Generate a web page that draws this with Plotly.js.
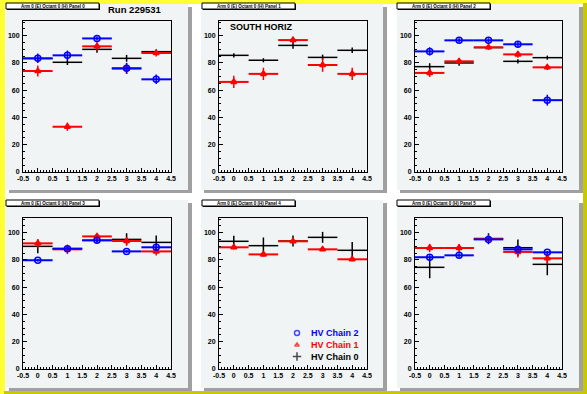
<!DOCTYPE html>
<html>
<head>
<meta charset="utf-8">
<script src="https://cdn.plot.ly/plotly-3.0.1.min.js"></script>
<style>html,body{margin:0;padding:0;background:#fff;}#plot{width:587px;height:394px;}</style>
</head>
<body>
<div id="plot"></div>
<script>
// ---------------- DATA ----------------
const bins = [0, 1, 2, 3, 4];
const binHalfWidth = [0.5, 0.5, 0.5, 0.5, 0.5];
const xTickVals = [-0.5, 0, 0.5, 1, 1.5, 2, 2.5, 3, 3.5, 4, 4.5];
const xTickText = ['-0.5', '0', '0.5', '1', '1.5', '2', '2.5', '3', '3.5', '4', '4.5'];
const yTickVals = [0, 20, 40, 60, 80, 100];
const yTickText = ['0', '20', '40', '60', '80', '100'];

const panelTitles = [
  'Arm 0 (E) Octant 0 (H) Panel 0',
  'Arm 0 (E) Octant 0 (H) Panel 1',
  'Arm 0 (E) Octant 0 (H) Panel 2',
  'Arm 0 (E) Octant 0 (H) Panel 3',
  'Arm 0 (E) Octant 0 (H) Panel 4',
  'Arm 0 (E) Octant 0 (H) Panel 5'
];
const seriesNames = ['HV Chain 2', 'HV Chain 1', 'HV Chain 0'];

// HV Chain 2 (blue)
const chain2 = [
  [83.4, 85.6, 98.0, 76.1, 68.0],
  null,
  [88.5, 96.6, 96.6, 93.7, 52.7],
  [79.8, 88.3, 94.4, 86.3, 89.3],
  null,
  [82.0, 83.4, 95.1, 87.8, 85.6]
];
const chain2Err = [
  [3.5, 3.5, 1.5, 4, 3.5],
  null,
  [3, 1.5, 1.5, 2, 4],
  [1, 1.5, 1.5, 1, 2],
  null,
  [1.5, 1.5, 1.5, 1.5, 1]
];
// HV Chain 1 (red)
const chain1 = [
  [74.1, 33.2, 92.2, 75.9, 87.3],
  [66.1, 72.0, 96.8, 78.5, 72.0],
  [72.7, 81.2, 91.5, 86.3, 76.8],
  [92.2, 87.8, 97.3, 93.9, 86.3],
  [89.3, 84.1, 93.7, 87.8, 80.5],
  [88.8, 88.8, 95.6, 85.9, 81.2]
];
const chain1Err = [
  [4, 3, 3, 4, 2.5],
  [4.5, 4.5, 2.5, 5, 4.5],
  [3, 2, 1.5, 2.5, 2],
  [3, 3.5, 1.5, 3, 3],
  [1.5, 1.5, 2, 1, 1.5],
  [3, 3, 2, 4, 4]
];
// HV Chain 0 (black)
const chain0 = [
  [83.3, 80.5, 90.0, 83.4, 88.3],
  [85.6, 82.0, 92.9, 84.1, 89.3],
  [77.3, 80.0, 91.3, 81.2, 83.9],
  [90.0, 88.3, 94.4, 95.1, 92.9],
  [93.7, 90.5, 93.9, 96.6, 87.1],
  [74.6, 88.8, 95.6, 89.0, 76.8]
];
const chain0Err = [
  [1.5, 2, 2.5, 2.5, 1.5],
  [1.5, 1.5, 2.5, 2, 2],
  [2.5, 2, 1.5, 1.5, 1.5],
  [5, 1.5, 1.5, 4.5, 5],
  [4, 6, 4, 4, 6],
  [8, 1.5, 4, 6, 8]
];

// ---------------- LAYOUT GEOMETRY (pixels) ----------------
const W = 587, H = 394;
const PX = p => p / W;
const PY = p => 1 - p / H;
const colPlot = [[23, 171], [219, 367], [415, 562]];
const rowPlot = [[21, 172], [218, 369]];
const colPad = [[6, 188], [201, 383], [397, 579]];
const rowPad = [[4, 190], [200, 388]];
const titleBoxX = [[6, 99], [202, 295], [397, 490]];
const titleBoxY = [[3, 9], [200, 206]];

const padColor = '#f0f4f4';
const shadowColor = '#a0a0a0';
const blue = '#0000ff', red = '#ff0000', black = '#000000';
const FONT = 'Liberation Sans, Arial, Helvetica, sans-serif';

const traces = [];
const layout = {
  width: W, height: H,
  margin: {l: 0, r: 0, t: 0, b: 0, pad: 0},
  paper_bgcolor: '#ffffff',
  plot_bgcolor: padColor,
  showlegend: false,
  hovermode: false,
  shapes: [],
  annotations: []
};

// canvas bevel border
layout.shapes.push(
  {type: 'rect', xref: 'paper', yref: 'paper', x0: PX(0), x1: PX(W), y0: PY(0), y1: PY(4), fillcolor: '#ffff33', line: {width: 0}, layer: 'below'},
  {type: 'rect', xref: 'paper', yref: 'paper', x0: PX(0), x1: PX(5), y0: PY(0), y1: PY(H), fillcolor: '#ffff33', line: {width: 0}, layer: 'below'},
  {type: 'rect', xref: 'paper', yref: 'paper', x0: PX(583), x1: PX(W), y0: PY(3), y1: PY(H), fillcolor: '#c8c800', line: {width: 0}, layer: 'below'},
  {type: 'rect', xref: 'paper', yref: 'paper', x0: PX(4), x1: PX(W), y0: PY(391), y1: PY(H), fillcolor: '#c8c800', line: {width: 0}, layer: 'below'}
);

for (let i = 0; i < 6; i++) {
  const c = i % 3, r = Math.floor(i / 3);
  const n = i + 1;
  const xa = 'x' + n, ya = 'y' + n;
  const ax = {
    domain: [PX(colPlot[c][0]), PX(colPlot[c][1])],
    anchor: ya,
    range: [-0.5, 4.5],
    tickmode: 'array', tickvals: xTickVals, ticktext: xTickText,
    ticks: 'inside', ticklen: 4, tickwidth: 1, tickcolor: black,
    minor: {ticks: 'inside', ticklen: 2, tickmode: 'linear', tick0: -0.5, dtick: 0.1, tickcolor: black, showgrid: false},
    showline: true, mirror: true, linecolor: black, linewidth: 1,
    showgrid: false, zeroline: false, fixedrange: true,
    tickfont: {family: FONT, size: 7, color: black, weight: 700},
    ticklabelstandoff: 0
  };
  const ay = {
    domain: [PY(rowPlot[r][1]), PY(rowPlot[r][0])],
    anchor: xa,
    range: [0, 110.8],
    tickmode: 'array', tickvals: yTickVals, ticktext: yTickText,
    ticks: 'inside', ticklen: 4, tickwidth: 1, tickcolor: black,
    minor: {ticks: 'inside', ticklen: 2, tickmode: 'linear', tick0: 0, dtick: 5, tickcolor: black, showgrid: false},
    showline: true, mirror: true, linecolor: black, linewidth: 1,
    showgrid: false, zeroline: false, fixedrange: true,
    tickfont: {family: FONT, size: 7, color: black, weight: 700},
    ticklabelstandoff: 1
  };
  layout['xaxis' + (n === 1 ? '' : n)] = ax;
  layout['yaxis' + (n === 1 ? '' : n)] = ay;

  // pad shadow + pad
  layout.shapes.push(
    {type: 'rect', xref: 'paper', yref: 'paper', x0: PX(colPad[c][0] + 3), x1: PX(colPad[c][1] + 4), y0: PY(rowPad[r][1] + 3), y1: PY(rowPad[r][0] + 3), fillcolor: shadowColor, line: {width: 0}, layer: 'below'},
    {type: 'rect', xref: 'paper', yref: 'paper', x0: PX(colPad[c][0]), x1: PX(colPad[c][1]), y0: PY(rowPad[r][1]), y1: PY(rowPad[r][0]), fillcolor: padColor, line: {width: 0}, layer: 'below'}
  );
  // title box with shadow
  layout.shapes.push(
    {type: 'rect', xref: 'paper', yref: 'paper', x0: PX(titleBoxX[c][0] + 1), x1: PX(titleBoxX[c][1] + 1), y0: PY(titleBoxY[r][1] + 1), y1: PY(titleBoxY[r][0] + 1), fillcolor: black, line: {width: 0}, layer: 'above'},
    {type: 'rect', xref: 'paper', yref: 'paper', x0: PX(titleBoxX[c][0]), x1: PX(titleBoxX[c][1]), y0: PY(titleBoxY[r][1]), y1: PY(titleBoxY[r][0]), fillcolor: '#ffffff', line: {width: 1, color: black}, layer: 'above'}
  );
  layout.annotations.push({
    xref: 'paper', yref: 'paper',
    x: PX((titleBoxX[c][0] + titleBoxX[c][1]) / 2), y: PY((titleBoxY[r][0] + titleBoxY[r][1]) / 2),
    text: panelTitles[i], showarrow: false, xanchor: 'center', yanchor: 'middle',
    font: {family: FONT, size: 4.5, color: black, weight: 700}
  });

  // series: black, red, blue
  traces.push({
    type: 'scatter', mode: 'markers', xaxis: xa, yaxis: ya,
    x: bins, y: chain0[i],
    marker: {size: 1, color: black},
    error_x: {type: 'data', array: binHalfWidth, visible: true, width: 0, thickness: 1.5, color: black},
    error_y: {type: 'data', array: chain0Err[i], visible: true, width: 0, thickness: 1.5, color: black},
    name: seriesNames[2]
  });
  traces.push({
    type: 'scatter', mode: 'markers', xaxis: xa, yaxis: ya,
    x: bins, y: chain1[i],
    marker: {symbol: 'triangle-up-open', size: 5, color: red, line: {width: 2, color: red}},
    error_x: {type: 'data', array: binHalfWidth, visible: true, width: 0, thickness: 2, color: red},
    error_y: {type: 'data', array: chain1Err[i], visible: true, width: 0, thickness: 1.5, color: red},
    name: seriesNames[1]
  });
  if (chain2[i]) {
    traces.push({
      type: 'scatter', mode: 'markers', xaxis: xa, yaxis: ya,
      x: bins, y: chain2[i],
      marker: {symbol: 'circle-open', size: 6, color: blue, line: {width: 1.5, color: blue}},
      error_x: {type: 'data', array: binHalfWidth, visible: true, width: 0, thickness: 2, color: blue},
      error_y: {type: 'data', array: chain2Err[i], visible: true, width: 0, thickness: 1.5, color: blue},
      name: seriesNames[0]
    });
  }
}

// overlay axes on panel 5 in pixel space for the legend markers
layout.xaxis7 = {overlaying: 'x5', range: [colPlot[1][0], colPlot[1][1]], visible: false, anchor: 'y7', fixedrange: true};
layout.yaxis7 = {overlaying: 'y5', range: [rowPlot[1][1], rowPlot[1][0]], visible: false, anchor: 'x7', fixedrange: true};

// legend (drawn in panel 5)
const legendX = [297, 297, 297];
const legendY = [333, 345, 356.5];
const legendColors = [blue, red, black];
const legendSymbols = ['circle-open', 'triangle-up-open', 'cross-thin-open'];
traces.push({
  type: 'scatter', mode: 'markers', xaxis: 'x7', yaxis: 'y7',
  x: legendX, y: legendY,
  marker: {symbol: legendSymbols, size: [5, 4, 6], color: legendColors, line: {width: [1.5, 1.5, 1.5], color: legendColors}}
});
for (let k = 0; k < 3; k++) {
  layout.annotations.push({
    xref: 'paper', yref: 'paper', x: PX(309), y: PY(legendY[k]),
    text: seriesNames[k], showarrow: false, xanchor: 'left', yanchor: 'middle',
    font: {family: FONT, size: 9, color: legendColors[k], weight: 700}
  });
}

// run label and panel label
layout.annotations.push(
  {xref: 'paper', yref: 'paper', x: PX(106), y: PY(9), text: 'Run 229531', showarrow: false, xanchor: 'left', yanchor: 'middle',
   font: {family: FONT, size: 9.5, color: black, weight: 700}},
  {xref: 'paper', yref: 'paper', x: PX(228), y: PY(27.5), text: 'SOUTH HORIZ', showarrow: false, xanchor: 'left', yanchor: 'middle',
   font: {family: FONT, size: 9, color: black, weight: 700}}
);

Plotly.newPlot('plot', traces, layout, {staticPlot: true, displayModeBar: false});
</script>
</body>
</html>
